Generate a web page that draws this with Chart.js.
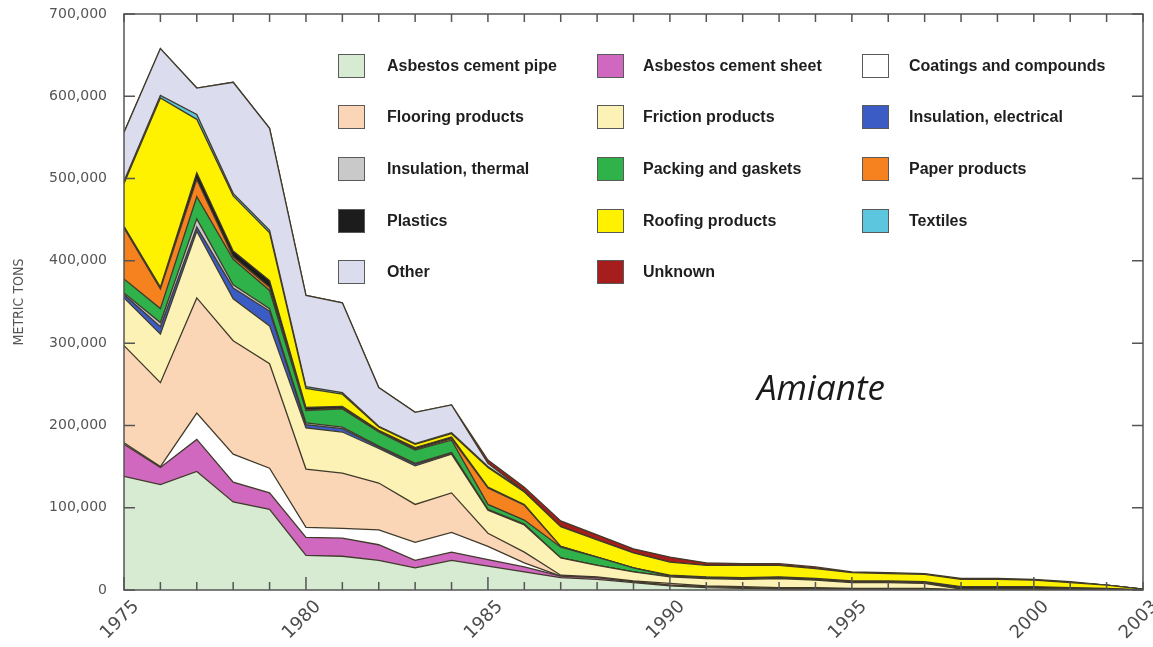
<!DOCTYPE html>
<html>
<head>
<meta charset="utf-8">
<title>Amiante</title>
<script src="https://cdn.jsdelivr.net/npm/chart.js@4.4.0/dist/chart.umd.min.js"></script>
<style>
  html, body { margin: 0; padding: 0; background: #ffffff; }
  #wrap { position: relative; width: 1153px; height: 647px; overflow: hidden; background: #ffffff; }
  #chart { position: absolute; left: 0; top: 0; }
  .sw { position: absolute; width: 27px; height: 24px; box-sizing: border-box; border: 1.5px solid #5a5a5a; }
  .lt { position: absolute; font-family: "Liberation Sans", Arial, sans-serif; font-weight: bold;
        font-size: 16px; line-height: 20px; color: #1e1e1e; white-space: nowrap; }
  #amiante { position: absolute; left: 757px; top: 369px; font-family: "Open Sans", sans-serif;
             font-style: italic; font-size: 35px; line-height: 35px; color: #1a1a1a; white-space: nowrap; }
</style>
</head>
<body>
<div id="wrap">
  <canvas id="chart" width="1153" height="647"></canvas>
  <div id="legend"></div>
  <div id="amiante">Amiante</div>
</div>
<script>
// Years on the horizontal axis
const years = [1975, 1976, 1977, 1978, 1979, 1980, 1981, 1982, 1983, 1984,
               1985, 1986, 1987, 1988, 1989, 1990, 1991, 1992, 1993, 1994,
               1995, 1996, 1997, 1998, 1999, 2000, 2001, 2002, 2003];

// Consumption by end use, metric tons (stacked bottom to top in this order)
const asbestosCementPipe = [138000, 128000, 144000, 107000, 98000, 42000, 41000, 36000, 27000, 36000,
                            29000, 22000, 15000, 13000, 9000, 5000, 3000, 2000, 1000, 1000,
                            1000, 1000, 1000, 0, 0, 0, 0, 0, 0];
const asbestosCementSheet = [39000, 21000, 39000, 24000, 20000, 22000, 22000, 19000, 9000, 10000,
                             8000, 6000, 2000, 2000, 1000, 1000, 1000, 1000, 1000, 1000,
                             0, 0, 0, 0, 0, 0, 0, 0, 0];
const coatingsCompounds = [2000, 1000, 32000, 34000, 30000, 12000, 12000, 18000, 22000, 24000,
                           16000, 5000, 0, 0, 0, 0, 0, 0, 0, 0,
                           0, 0, 0, 0, 0, 0, 0, 0, 0];
const flooringProducts = [118000, 102000, 140000, 138000, 127000, 71000, 67000, 57000, 46000, 48000,
                          16000, 13000, 1000, 1000, 1000, 2000, 1000, 1000, 1000, 1000,
                          1000, 1000, 1000, 0, 0, 0, 0, 0, 0];
const frictionProducts = [58000, 59000, 81000, 51000, 46000, 50000, 50000, 42000, 47000, 47000,
                          28000, 33000, 21000, 14000, 11000, 8000, 9000, 9000, 11000, 9000,
                          7000, 7000, 6000, 1000, 1000, 1000, 1000, 0, 0];
const insulationElectrical = [4000, 9000, 5000, 13000, 18000, 4000, 4000, 2000, 2000, 1000,
                              0, 0, 0, 0, 0, 0, 0, 0, 0, 0,
                              0, 0, 0, 0, 0, 0, 0, 0, 0];
const insulationThermal = [2000, 5000, 10000, 4000, 3000, 2000, 2000, 1000, 1000, 1000,
                           1000, 1000, 0, 0, 0, 0, 0, 0, 0, 0,
                           0, 0, 0, 0, 0, 0, 0, 0, 0];
const packingGaskets = [17000, 17000, 27000, 31000, 22000, 15000, 22000, 17000, 16000, 15000,
                        6000, 5000, 13000, 10000, 5000, 1000, 1000, 1000, 1000, 1000,
                        1000, 1000, 1000, 1000, 1000, 1000, 1000, 1000, 0];
const paperProducts = [62000, 24000, 21000, 3000, 4000, 1000, 1000, 1000, 1000, 2000,
                       20000, 18000, 1000, 0, 0, 0, 0, 0, 0, 0,
                       0, 0, 0, 0, 0, 0, 0, 0, 0];
const plastics = [2000, 2000, 8000, 7000, 8000, 3000, 2000, 1000, 2000, 2000,
                  1000, 1000, 0, 0, 0, 1000, 1000, 1000, 1000, 1000,
                  1000, 1000, 1000, 2000, 2000, 2000, 1000, 1000, 0];
const roofingProducts = [52000, 230000, 65000, 67000, 58000, 23000, 15000, 4000, 4000, 4000,
                         24000, 15000, 24000, 21000, 18000, 16000, 14000, 15000, 14000, 12000,
                         10000, 9000, 9000, 9000, 9000, 8000, 6000, 4000, 1000];
const textiles = [3000, 3000, 6000, 3000, 3000, 2000, 2000, 1000, 1000, 1000,
                  1000, 1000, 0, 0, 0, 0, 0, 0, 0, 0,
                  0, 0, 0, 0, 0, 0, 0, 0, 0];
const other = [59000, 57000, 32000, 135000, 124000, 111000, 109000, 47000, 38000, 34000,
               4000, 0, 0, 0, 0, 0, 0, 0, 0, 0,
               0, 0, 0, 0, 0, 0, 0, 0, 0];
const unknown = [0, 0, 0, 0, 0, 0, 0, 0, 0, 0,
                 4000, 5000, 7000, 6000, 5000, 6000, 3000, 2000, 2000, 2000,
                 1000, 1000, 1000, 1000, 1000, 1000, 1000, 0, 0];

const seriesNames = ["Asbestos cement pipe", "Asbestos cement sheet", "Coatings and compounds",
                     "Flooring products", "Friction products", "Insulation, electrical",
                     "Insulation, thermal", "Packing and gaskets", "Paper products",
                     "Plastics", "Roofing products", "Textiles", "Other", "Unknown"];
const seriesValues = [asbestosCementPipe, asbestosCementSheet, coatingsCompounds, flooringProducts,
                      frictionProducts, insulationElectrical, insulationThermal, packingGaskets,
                      paperProducts, plastics, roofingProducts, textiles, other, unknown];
const seriesColors = ["#d6ebd2", "#d068c0", "#ffffff", "#fbd6b6", "#fcf2b6", "#3a5cc4",
                      "#c9c9c9", "#2fb24a", "#f5821f", "#1c1c1c", "#fff200", "#5cc6df",
                      "#dcdcef", "#a51d1d"];

// Axis ticks
const yTickValues = [0, 100000, 200000, 300000, 400000, 500000, 600000, 700000];
const xTickLabels = [1975, 1980, 1985, 1990, 1995, 2000, 2003];

const edgeColor = "#403a2a";
const frameColor = "#555555";

// Legend: three columns, filled row by row
const legendCols = [{ sw: 338, tx: 387 }, { sw: 597, tx: 643 }, { sw: 862, tx: 909 }];
const legendRows = [66, 117, 169, 221, 272];
const legendEl = document.getElementById("legend");
seriesNames.forEach((name, i) => {
  const col = legendCols[i % 3];
  const cy = legendRows[Math.floor(i / 3)];
  const sw = document.createElement("div");
  sw.className = "sw";
  sw.style.left = col.sw + "px";
  sw.style.top = (cy - 12) + "px";
  sw.style.background = seriesColors[i];
  legendEl.appendChild(sw);
  const t = document.createElement("div");
  t.className = "lt";
  t.style.left = col.tx + "px";
  t.style.top = (cy - 10) + "px";
  t.textContent = name;
  legendEl.appendChild(t);
});

// Box frame with inward ticks, plus rotated year labels
const framePlugin = {
  id: "frameTicks",
  afterDatasetsDraw(chart) {
    const { ctx, chartArea: a, scales: { x, y } } = chart;
    ctx.save();
    ctx.strokeStyle = frameColor;
    ctx.lineWidth = 1.5;
    ctx.strokeRect(a.left, a.top, a.right - a.left, a.bottom - a.top);
    ctx.beginPath();
    years.forEach(yr => {
      const px = x.getPixelForValue(yr);
      const len = (yr % 5 === 0) ? 13 : 8;
      ctx.moveTo(px, a.bottom);
      ctx.lineTo(px, a.bottom - len);
      ctx.moveTo(px, a.top);
      ctx.lineTo(px, a.top + 8);
    });
    yTickValues.forEach(v => {
      const py = y.getPixelForValue(v);
      ctx.moveTo(a.left, py);
      ctx.lineTo(a.left + 11, py);
      ctx.moveTo(a.right, py);
      ctx.lineTo(a.right - 11, py);
    });
    ctx.stroke();

    ctx.fillStyle = "#4d4d4d";
    ctx.font = '18px "DejaVu Sans"';
    ctx.textAlign = "center";
    ctx.textBaseline = "middle";
    xTickLabels.forEach(yr => {
      const px = x.getPixelForValue(yr) - 4;
      ctx.save();
      ctx.translate(px, 620);
      ctx.rotate(-Math.PI / 4);
      ctx.fillText(String(yr), 0, 0);
      ctx.restore();
    });
    ctx.restore();
  }
};

const datasets = seriesNames.map((name, i) => ({
  label: name,
  data: years.map((yr, j) => ({ x: yr, y: seriesValues[i][j] })),
  backgroundColor: seriesColors[i],
  borderColor: edgeColor,
  borderWidth: 1.3,
  fill: i === 0 ? "origin" : "-1",
  pointRadius: 0,
  tension: 0
}));

new Chart(document.getElementById("chart"), {
  type: "line",
  data: { datasets },
  options: {
    responsive: false,
    animation: false,
    events: [],
    layout: { padding: { top: 14, right: 10, bottom: 57, left: 0 } },
    plugins: { legend: { display: false }, tooltip: { enabled: false } },
    scales: {
      x: {
        type: "linear",
        min: 1975,
        max: 2003,
        display: false
      },
      y: {
        stacked: true,
        min: 0,
        max: 700000,
        afterFit(scale) {
          scale.width = 124;
          scale.paddingTop = 0;
          scale.paddingBottom = 0;
        },
        grid: { display: false, drawTicks: false },
        border: { display: false },
        ticks: {
          stepSize: 100000,
          padding: 17,
          color: "#555555",
          font: { family: "DejaVu Sans", size: 14 },
          callback: v => v.toLocaleString("en-US")
        },
        title: {
          display: true,
          text: "METRIC TONS",
          color: "#555555",
          font: { family: "DejaVu Sans Condensed", size: 14 },
          padding: { top: 11, bottom: 0 }
        }
      }
    }
  },
  plugins: [framePlugin]
});
</script>
</body>
</html>
